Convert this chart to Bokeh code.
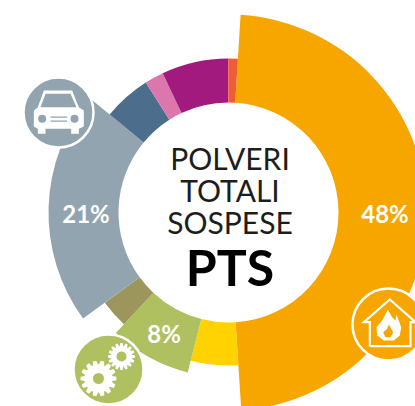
import math
from bokeh.plotting import figure
from bokeh.models import Range1d
from bokeh.core.properties import value
from bokeh.embed import file_html
from bokeh.resources import INLINE

# data
sectors = ["orange", "yellow", "green", "brown", "gray", "blue", "pink", "purple", "red"]
percent = [48, 5, 8, 3, 21, 5, 2, 7, 1]
colors = ["#F7A600", "#FFD200", "#AEC060", "#9C965C", "#92A4AF", "#4D6D8C", "#DE76AE", "#A21A7D", "#EE5D35"]
outer_r = [198, 153, 165, 153, 180, 154, 154, 154, 154]
labels = {"orange": "48%", "green": "8%", "gray": "21%"}
title_lines = ["POLVERI", "TOTALI", "SOSPESE"]
title_short = "PTS"

W, H = 415, 406
CX, CY = 228, 212
INNER = 110
START_DEG = 3.5
FONT = "Lato"


def X(px):
    return px


def Y(py):
    return 406 - py


p = figure(width=W, height=H, output_backend="svg", toolbar_location=None,
           x_range=Range1d(0, W), y_range=Range1d(0, H),
           x_axis_type=None, y_axis_type=None, min_border=0,
           background_fill_color="white", border_fill_color="white",
           outline_line_color=None)
p.grid.visible = False

# ring
total = sum(percent)
angle = START_DEG
starts, ends = [], []
for v in percent:
    a1 = angle + v / total * 360
    starts.append(math.radians(90 - angle))
    ends.append(math.radians(90 - a1))
    angle = a1
p.annular_wedge(x=[X(CX)] * len(percent), y=[Y(CY)] * len(percent),
                inner_radius=INNER, outer_radius=outer_r,
                start_angle=starts, end_angle=ends, direction="clock",
                fill_color=colors, line_color=None)


def txt(x, y, s, size, style="normal", color="white", font=FONT):
    p.text([X(x)], [Y(y)], text=[s], text_font=value(font),
           text_font_size=f"{size}px", text_font_style=style, text_color=color,
           text_align="center", text_baseline="middle")


# percentage labels
txt(384.5, 213, labels["orange"], 24, "bold")
txt(85.5, 213, labels["gray"], 24, "bold")
txt(163.5, 333, labels["green"], 24, "bold")

# centre title
for line, y in zip(title_lines, [157, 189, 221]):
    txt(229.5, y, line, 30, "normal", "#1d1d1b")
txt(229.5, 266, title_short, 50, "bold", "#000000")

# car icon
def cpt(pts, ox=0, oy=50):
    return [X(ox + a / 3) for a, b in pts], [Y(oy + b / 3) for a, b in pts]


def icon_circle(x, y, r, fill):
    p.circle([X(x)], [Y(y)], radius=r, fill_color=fill, line_color="white", line_width=2.5)


GRAY = colors[4]
icon_circle(58, 112, 35, GRAY)
xs, ys = cpt([(130, 120), (215, 120), (235, 170), (250, 180), (250, 228), (235, 235), (235, 250), (212, 250),
              (212, 235), (135, 235), (135, 250), (112, 250), (112, 235), (100, 228), (100, 180), (112, 170)])
p.patch(xs, ys, fill_color="white", line_color=None)
xs, ys = cpt([(135, 130), (210, 130), (228, 170), (120, 170)])
p.patch(xs, ys, fill_color=GRAY, line_color=None)
p.circle([X(125 / 3), X(222 / 3)], [Y(50 + 205 / 3)] * 2, radius=4, fill_color=GRAY, line_color=None)
for yy in (200, 212):
    xs, ys = cpt([(150, yy), (200, yy)])
    p.line(xs, ys, line_color=GRAY, line_width=1.3)

# gears icon
GREEN = colors[2]
icon_circle(108, 369, 35, GREEN)


def gear(cx, cy, ro, ri, hole, n):
    gx, gy = [], []
    step = 2 * math.pi / n
    for i in range(n):
        t = i * step
        for da, r in ((-0.3, ri), (-0.16, ro), (0.16, ro), (0.3, ri)):
            gx.append(X(cx + r * math.cos(t + da * step * 1.4)))
            gy.append(Y(cy + r * math.sin(t + da * step * 1.4)))
    p.patch(gx, gy, fill_color="white", line_color=None)
    p.circle([X(cx)], [Y(cy)], radius=hole, fill_color=GREEN, line_color=None)


gear(98, 378, 18, 14, 5.5, 14)
gear(121, 356, 13.5, 10.5, 5, 16)

# house icon
ORANGE = colors[0]
icon_circle(388, 324, 36, ORANGE)
xs, ys = cpt([(118, 497), (118, 425), (100, 425), (178, 357), (255, 425), (240, 425), (240, 497), (118, 497)], 330, 180)
p.line(xs, ys, line_color="white", line_width=2.2, line_join="miter")
xs, ys = cpt([(172, 388), (185, 410), (195, 420), (198, 402), (212, 440), (208, 465), (190, 480), (160, 480),
              (140, 465), (138, 440), (155, 420)], 330, 180)
p.patch(xs, ys, fill_color="white", line_color=None)
xs, ys = cpt([(175, 432), (188, 455), (180, 470), (165, 470), (158, 455), (170, 445)], 330, 180)
p.patch(xs, ys, fill_color=ORANGE, line_color=None)

open("out.html", "w").write(file_html(p, INLINE))
